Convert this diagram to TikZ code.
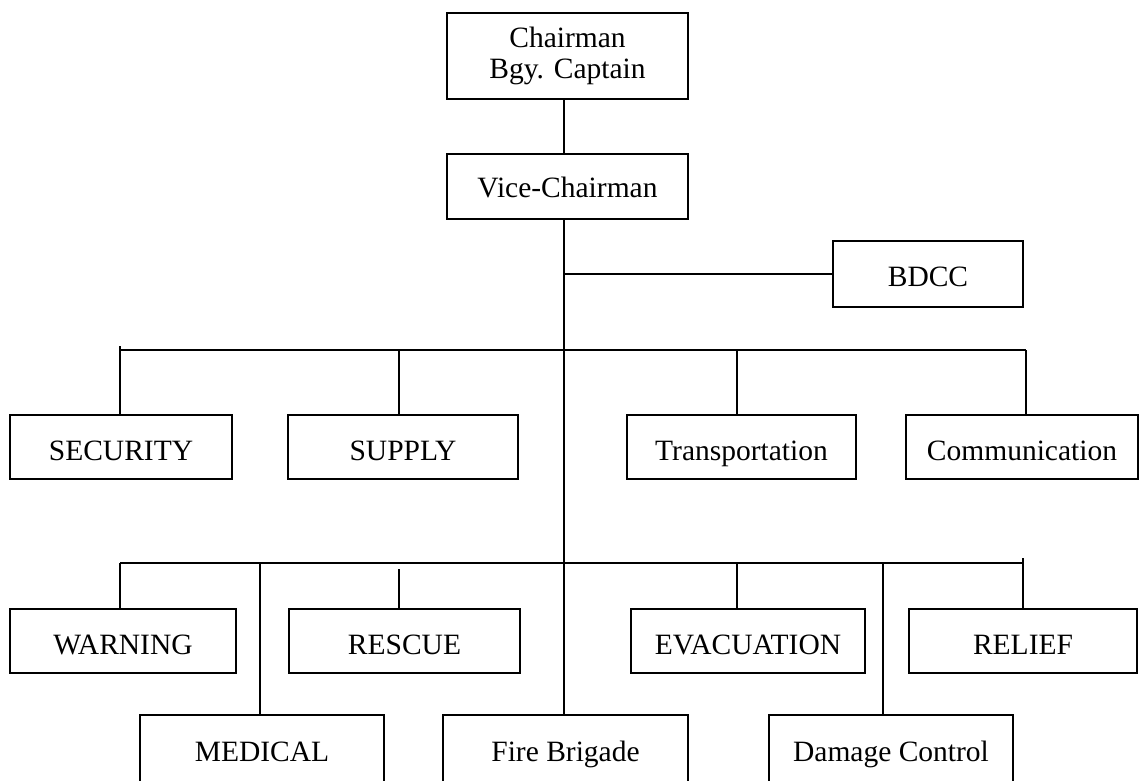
\documentclass[tikz,border=0pt]{standalone}
\usepackage{fontspec}
\setmainfont{Liberation Serif}
\begin{document}
\begin{tikzpicture}[x=1pt,y=-1pt,
  box/.style={draw,line width=1.6pt,inner sep=0pt,align=center,
    font=\fontsize{29.5}{30}\selectfont,text height=28pt,text depth=2pt},
  conn/.style={line width=1.5pt}]
\clip (0,0) rectangle (1140,780);
% top
\node[box,minimum width=241pt,minimum height=86pt,text height=,text depth=,
  font=\fontsize{29.5}{31}\selectfont] (chair) at (567.5,56) {Chairman\\Bgy. Captain};
\node[box,minimum width=241pt,minimum height=65pt,text height=23pt] (vice) at (567.5,186.5) {Vice-Chairman};
\node[box,minimum width=190pt,minimum height=66pt,text height=27pt] (bdcc) at (928,274) {BDCC};
% upper row
\node[box,minimum width=222pt,minimum height=64pt] (security) at (121,447) {SECURITY};
\node[box,minimum width=230pt,minimum height=64pt] (supply) at (403,447) {SUPPLY};
\node[box,minimum width=229pt,minimum height=64pt] (transport) at (741.5,447) {Transportation};
\node[box,minimum width=232pt,minimum height=64pt] (comm) at (1022,447) {Communication};
% lower row
\node[box,minimum width=226pt,minimum height=64pt] (warning) at (123,641) {WARNING};
\node[box,minimum width=231pt,minimum height=64pt] (rescue) at (404.5,641) {RESCUE};
\node[box,minimum width=234pt,minimum height=64pt] (evac) at (748,641) {EVACUATION};
\node[box,minimum width=228pt,minimum height=64pt] (relief) at (1023,641) {RELIEF};
% bottom row (cut off by the lower edge)
\node[box,minimum width=244pt,minimum height=72pt,text height=22pt] (medical) at (262,751) {MEDICAL};
\node[box,minimum width=245pt,minimum height=72pt,text height=22pt] (fire) at (565.5,751) {Fire Brigade};
\node[box,minimum width=244pt,minimum height=72pt,text height=22pt] (damage) at (891,751) {Damage Control};
% coordinates
\coordinate (t) at (564,0);
\coordinate (ubl) at (120,350);
\coordinate (ubr) at (1026,350);
\coordinate (lbl) at (120,563);
\coordinate (lbr) at (1023,563);
\coordinate (u1) at (120,346);
\coordinate (u2) at (399,350);
\coordinate (u3) at (737,350);
\coordinate (u4) at (1026,350);
\coordinate (l1) at (120,563);
\coordinate (l2) at (260,563);
\coordinate (l3) at (399,569);
\coordinate (l4) at (737,563);
\coordinate (l5) at (883,563);
\coordinate (l6) at (1023,558);
% connectors
\draw[conn] (chair.south -| t) -- (vice.north -| t);
\draw[conn] (vice.south -| t) -- (fire.north -| t);
\draw[conn] (t |- bdcc.west) -- (bdcc.west);
\draw[conn] (ubl) -- (ubr);
\draw[conn] (lbl) -- (lbr);
\draw[conn] (u1) -- (u1 |- security.north);
\draw[conn] (u2) -- (u2 |- supply.north);
\draw[conn] (u3) -- (u3 |- transport.north);
\draw[conn] (u4) -- (u4 |- comm.north);
\draw[conn] (l1) -- (l1 |- warning.north);
\draw[conn] (l2) -- (l2 |- medical.north);
\draw[conn] (l3) -- (l3 |- rescue.north);
\draw[conn] (l4) -- (l4 |- evac.north);
\draw[conn] (l5) -- (l5 |- damage.north);
\draw[conn] (l6) -- (l6 |- relief.north);
\end{tikzpicture}
\end{document}
